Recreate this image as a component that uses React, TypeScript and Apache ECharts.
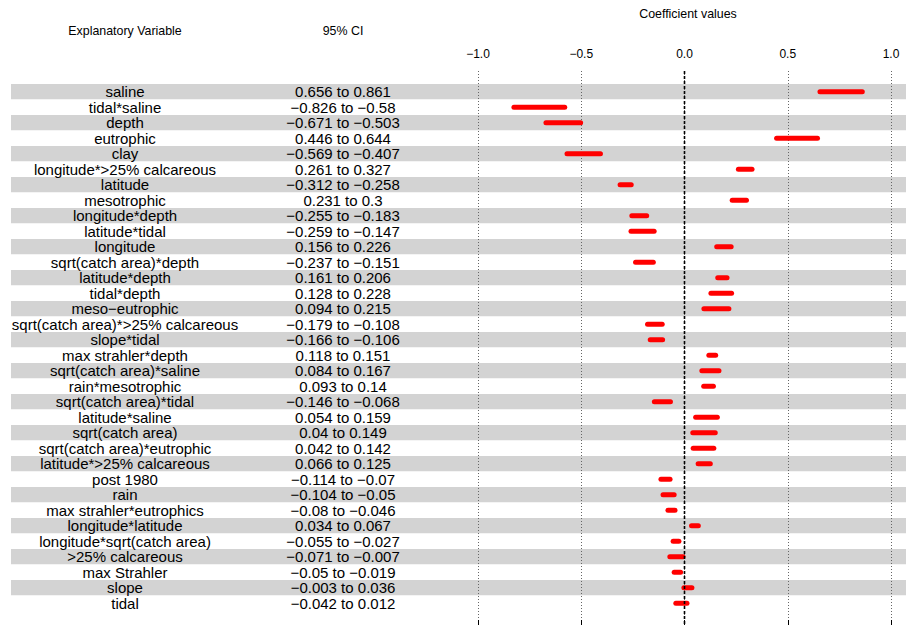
import React, { useEffect, useRef } from "react";
import * as echarts from "echarts";

// Model terms, ordered top to bottom
const variables = [
  "saline",
  "tidal*saline",
  "depth",
  "eutrophic",
  "clay",
  "longitude*>25% calcareous",
  "latitude",
  "mesotrophic",
  "longitude*depth",
  "latitude*tidal",
  "longitude",
  "sqrt(catch area)*depth",
  "latitude*depth",
  "tidal*depth",
  "meso\u2212eutrophic",
  "sqrt(catch area)*>25% calcareous",
  "slope*tidal",
  "max strahler*depth",
  "sqrt(catch area)*saline",
  "rain*mesotrophic",
  "sqrt(catch area)*tidal",
  "latitude*saline",
  "sqrt(catch area)",
  "sqrt(catch area)*eutrophic",
  "latitude*>25% calcareous",
  "post 1980",
  "rain",
  "max strahler*eutrophics",
  "longitude*latitude",
  "longitude*sqrt(catch area)",
  ">25% calcareous",
  "max Strahler",
  "slope",
  "tidal",
];

// 95% confidence interval bounds for each term
const ciLower = [
  0.656, -0.826, -0.671, 0.446, -0.569, 0.261, -0.312, 0.231, -0.255, -0.259,
  0.156, -0.237, 0.161, 0.128, 0.094, -0.179, -0.166, 0.118, 0.084, 0.093,
  -0.146, 0.054, 0.04, 0.042, 0.066, -0.114, -0.104, -0.08, 0.034, -0.055,
  -0.071, -0.05, -0.003, -0.042,
];
const ciUpper = [
  0.861, -0.58, -0.503, 0.644, -0.407, 0.327, -0.258, 0.3, -0.183, -0.147,
  0.226, -0.151, 0.206, 0.228, 0.215, -0.108, -0.106, 0.151, 0.167, 0.14,
  -0.068, 0.159, 0.149, 0.142, 0.125, -0.07, -0.05, -0.046, 0.067, -0.027,
  -0.007, -0.019, 0.036, 0.012,
];

// Coefficient axis
const axisMin = -1;
const axisMax = 1;
const axisStep = 0.5;
const referenceValue = 0;

const FONT = "'Liberation Sans', Arial, Helvetica, sans-serif";
const MINUS = "\u2212";

const fmt = (v: number) => (v < 0 ? MINUS + String(-v) : String(v));
const fmtTick = (v: number) => (v < 0 ? MINUS + (-v).toFixed(1) : v.toFixed(1));

export default function App() {
  const ref = useRef<HTMLDivElement>(null);

  useEffect(() => {
    if (!ref.current) return;
    const chart = echarts.init(ref.current, undefined, { renderer: "svg" });

    const headerStyle = (text: string) => ({
      text,
      fill: "#000",
      fontSize: 12.4,
      fontFamily: FONT,
      align: "center",
      verticalAlign: "middle",
    });

    const option: any = {
      animation: false,
      backgroundColor: "#ffffff",
      grid: [
        { left: 11, right: 0, top: 84, height: 527 },
        { left: 478, right: 15, top: 84, height: 527 },
        { left: 478, right: 15, top: 71, bottom: 0 },
      ],
      xAxis: [
        { gridIndex: 0, type: "value", min: 0, max: 1, show: false },
        { gridIndex: 1, type: "value", min: axisMin, max: axisMax, show: false },
        {
          gridIndex: 2,
          type: "value",
          min: axisMin,
          max: axisMax,
          interval: axisStep,
          position: "top",
          z: 1,
          axisLine: { show: true, lineStyle: { color: "#000", width: 1 } },
          axisTick: { show: true, length: 5, lineStyle: { color: "#000", width: 1 } },
          axisLabel: {
            color: "#000",
            fontSize: 12,
            fontFamily: FONT,
            margin: 11,
            formatter: (v: number) => fmtTick(v),
          },
          splitLine: {
            show: true,
            lineStyle: { type: [1, 2], color: "#666", width: 1 },
          },
        },
      ],
      yAxis: [
        {
          gridIndex: 0,
          type: "category",
          data: variables,
          inverse: true,
          z: 0,
          axisLine: { show: false },
          axisTick: { show: false, interval: 0 },
          axisLabel: { show: false, interval: 0 },
          splitLine: { show: false, interval: 0 },
          splitArea: {
            show: true,
            interval: 0,
            areaStyle: { color: ["#D3D3D3", "#FFFFFF"] },
          },
        },
        { gridIndex: 1, type: "category", data: variables, inverse: true, show: false },
        { gridIndex: 2, type: "value", min: 0, max: 1, show: false },
      ],
      graphic: [
        { type: "text", x: 125, y: 31, style: headerStyle("Explanatory Variable") },
        { type: "text", x: 343, y: 31, style: headerStyle("95% CI") },
        { type: "text", x: 688, y: 14, style: headerStyle("Coefficient values") },
      ],
      series: [
        {
          // Term names and interval text
          type: "custom",
          xAxisIndex: 0,
          yAxisIndex: 0,
          z: 3,
          silent: true,
          data: variables.map((_, i) => [0, i]),
          renderItem: (params: any, api: any) => {
            const i = api.value(1);
            const y = api.coord([0, i])[1];
            return {
              type: "group",
              children: [
                {
                  type: "text",
                  x: 125,
                  y,
                  style: {
                    text: variables[i],
                    fill: "#000",
                    fontSize: 15,
                    fontFamily: FONT,
                    align: "center",
                    verticalAlign: "middle",
                  },
                },
                {
                  type: "text",
                  x: 343,
                  y,
                  style: {
                    text: fmt(ciLower[i]) + " to " + fmt(ciUpper[i]),
                    fill: "#000",
                    fontSize: 15,
                    fontFamily: FONT,
                    align: "center",
                    verticalAlign: "middle",
                  },
                },
              ],
            };
          },
        },
        {
          // Confidence interval bars
          type: "custom",
          xAxisIndex: 1,
          yAxisIndex: 1,
          z: 4,
          silent: true,
          data: variables.map((_, i) => [ciLower[i], ciUpper[i], i]),
          renderItem: (params: any, api: any) => {
            const i = api.value(2);
            const p1 = api.coord([api.value(0), i]);
            const p2 = api.coord([api.value(1), i]);
            return {
              type: "line",
              shape: { x1: p1[0], y1: p1[1], x2: p2[0], y2: p2[1] },
              style: { stroke: "#FF0000", lineWidth: 5, lineCap: "round" },
            };
          },
        },
        {
          // Reference line at zero
          type: "custom",
          xAxisIndex: 2,
          yAxisIndex: 2,
          z: 6,
          silent: true,
          data: [[referenceValue]],
          renderItem: (params: any, api: any) => {
            const top = api.coord([api.value(0), 1]);
            const bottom = api.coord([api.value(0), 0]);
            return {
              type: "line",
              shape: { x1: top[0], y1: top[1], x2: bottom[0], y2: bottom[1] },
              style: { stroke: "#000", lineWidth: 1.6, lineDash: [3, 2] },
            };
          },
        },
      ],
    };

    chart.setOption(option);
    return () => chart.dispose();
  }, []);

  return (
    <div
      ref={ref}
      style={{ position: "fixed", left: 0, top: 0, width: 906, height: 625 }}
    />
  );
}
